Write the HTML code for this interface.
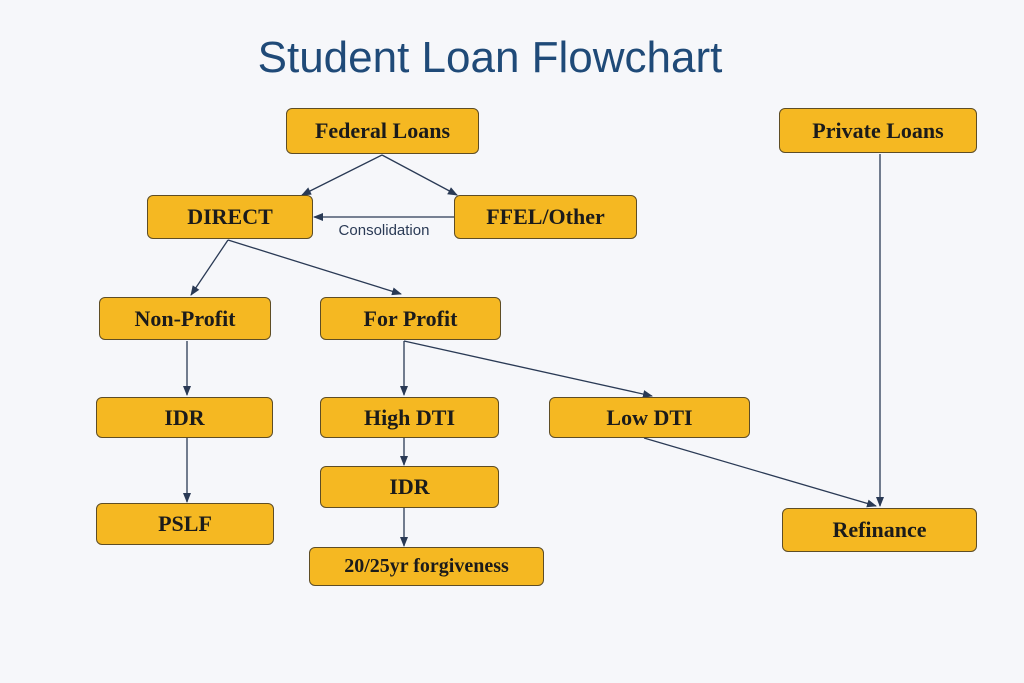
<!DOCTYPE html>
<html><head><style>
body{margin:0;width:1024px;height:683px;background:#f6f7fa;overflow:hidden;position:relative;font-family:"Liberation Serif",serif}
.t{position:absolute;left:0;width:980px;text-align:center;top:33px;font:44px "Liberation Sans",sans-serif;color:#1f4a78}
.b{position:absolute;box-sizing:border-box;background:#f5b822;border:1.5px solid #5e4d25;border-radius:6px;display:flex;align-items:center;justify-content:center;font-weight:bold;font-size:22px;color:#1b1b1b}
svg{position:absolute;left:0;top:0}
</style></head><body>
<div class="t">Student Loan Flowchart</div>
<svg width="1024" height="683">
<defs><marker id="a" markerWidth="10" markerHeight="8" refX="9" refY="4" orient="auto" markerUnits="userSpaceOnUse"><path d="M0,0L10,4L0,8z" fill="#2a3a55"/></marker></defs>
<g stroke="#2a3a55" stroke-width="1.3" fill="none" marker-end="url(#a)">
<line x1="382" y1="155" x2="302" y2="195"/>
<line x1="382" y1="155" x2="457" y2="195"/>
<line x1="454" y1="217" x2="314" y2="217"/>
<line x1="228" y1="240" x2="191" y2="295"/>
<line x1="228" y1="240" x2="401" y2="294"/>
<line x1="187" y1="341" x2="187" y2="395"/>
<line x1="187" y1="438" x2="187" y2="502"/>
<line x1="404" y1="341" x2="404" y2="395"/>
<line x1="404" y1="341" x2="652" y2="396"/>
<line x1="404" y1="438" x2="404" y2="465"/>
<line x1="404" y1="508" x2="404" y2="546"/>
<line x1="644" y1="438" x2="876" y2="506"/>
<line x1="880" y1="154" x2="880" y2="506"/>
</g>
<text x="384" y="235" text-anchor="middle" font-family="Liberation Sans,sans-serif" font-size="15" fill="#2a3a55">Consolidation</text>
</svg>
<div class="b" style="left:286px;top:108px;width:193px;height:46px">Federal Loans</div>
<div class="b" style="left:779px;top:108px;width:198px;height:45px">Private Loans</div>
<div class="b" style="left:147px;top:195px;width:166px;height:44px">DIRECT</div>
<div class="b" style="left:454px;top:195px;width:183px;height:44px">FFEL/Other</div>
<div class="b" style="left:99px;top:297px;width:172px;height:43px">Non-Profit</div>
<div class="b" style="left:320px;top:297px;width:181px;height:43px">For Profit</div>
<div class="b" style="left:96px;top:397px;width:177px;height:41px">IDR</div>
<div class="b" style="left:320px;top:397px;width:179px;height:41px">High DTI</div>
<div class="b" style="left:549px;top:397px;width:201px;height:41px">Low DTI</div>
<div class="b" style="left:320px;top:466px;width:179px;height:42px">IDR</div>
<div class="b" style="left:96px;top:503px;width:178px;height:42px">PSLF</div>
<div class="b" style="left:309px;top:547px;width:235px;height:39px;font-size:20px">20/25yr forgiveness</div>
<div class="b" style="left:782px;top:508px;width:195px;height:44px">Refinance</div>
</body></html>
